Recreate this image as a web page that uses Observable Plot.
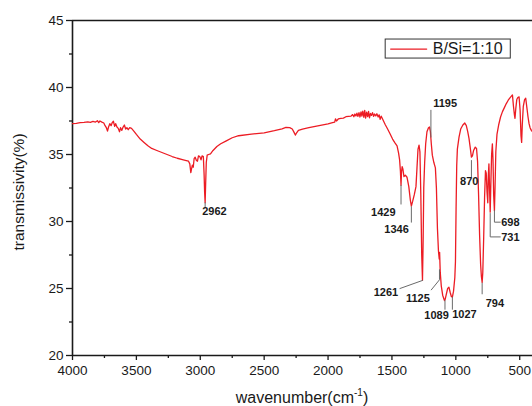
<!DOCTYPE html>
<html><head><meta charset="utf-8">
<script src="https://cdn.jsdelivr.net/npm/d3@7"></script>
<script src="https://cdn.jsdelivr.net/npm/@observablehq/plot@0.6"></script>
<style>
html,body{margin:0;padding:0;background:#fff;}
#chart{width:532px;height:406px;overflow:hidden;}
</style></head><body><div id="chart"></div>
<script>
const wavenumber = [4000,3970,3940,3910,3880,3860,3840,3820,3805,3795,3785,3770,3755,3745,3735,3726,3718,3708,3698,3688,3680,3670,3662,3652,3642,3632,3624,3614,3604,3594,3584,3574,3564,3552,3538,3520,3500,3470,3440,3410,3380,3340,3300,3260,3220,3180,3140,3110,3092,3082,3074,3068,3062,3055,3048,3040,3030,3022,3014,3004,2994,2986,2976,2970,2966,2962,2958,2953,2946,2935,2920,2900,2870,2840,2800,2750,2700,2600,2500,2420,2360,2330,2300,2280,2266,2256,2246,2232,2200,2150,2100,2050,2000,1965,1948,1942,1934,1920,1900,1880,1860,1840,1820,1808,1798,1790,1782,1774,1766,1758,1750,1742,1735,1728,1720,1713,1706,1698,1690,1683,1676,1668,1660,1652,1644,1636,1627,1618,1608,1600,1592,1584,1576,1566,1552,1535,1515,1495,1475,1460,1448,1440,1434,1429,1425,1420,1414,1406,1395,1382,1368,1356,1348,1338,1325,1312,1304,1296,1288,1281,1274,1267,1261,1256,1251,1244,1236,1226,1214,1206,1199,1192,1184,1172,1160,1152,1144,1136,1130,1127,1122,1114,1103,1089,1083,1076,1064,1054,1044,1035,1027,1018,1008,1003,998,993,988,975,962,945,930,918,907,897,887,878,870,861,848,838,830,822,814,806,800,794,789,782,775,768,762,756,750,746,741,736,731,726,720,714,709,704,698,693,687,678,665,650,635,620,605,590,575,557,549,542,537,531,523,515,505,497,490,485,480,472,462,453,444,435,427,419,409,400];
const transmissivity = [37.30,37.33,37.38,37.40,37.43,37.40,37.47,37.42,37.52,37.38,37.50,37.42,37.35,37.15,37.00,36.75,37.05,37.30,37.15,37.40,37.48,37.10,37.30,37.05,36.95,36.70,37.00,36.80,37.05,37.20,36.90,37.00,36.85,37.00,36.95,36.75,36.50,36.15,35.90,35.65,35.45,35.30,35.15,35.00,34.85,34.72,34.62,34.55,34.50,34.30,33.65,33.95,34.20,34.05,34.70,34.80,34.55,34.50,34.90,34.85,34.60,34.90,34.85,33.50,32.20,31.40,32.80,34.40,34.95,35.00,35.05,35.30,35.60,35.80,36.00,36.25,36.40,36.52,36.62,36.78,36.92,37.02,37.00,36.90,36.65,36.45,36.62,36.80,36.90,37.00,37.10,37.20,37.28,37.38,37.42,37.66,37.50,37.65,37.70,37.72,37.82,37.85,37.86,37.98,37.82,38.02,37.88,38.08,37.84,38.12,37.80,38.18,37.86,38.24,37.78,38.30,37.72,38.16,37.82,38.22,37.74,38.06,37.92,38.12,37.84,38.02,37.88,38.04,37.80,37.96,37.62,37.86,37.70,37.50,37.22,36.92,36.55,36.15,35.85,35.65,35.10,34.60,33.80,32.70,33.70,34.10,33.90,33.35,33.45,33.30,32.60,31.60,31.15,31.50,32.00,32.60,34.00,35.40,35.70,35.20,32.00,27.50,25.60,28.50,32.50,34.40,35.80,36.70,37.00,37.05,36.70,35.80,34.95,34.40,34.00,32.50,29.50,27.80,27.20,27.70,26.20,25.20,24.50,24.10,24.20,24.50,25.00,25.10,24.70,24.40,24.35,24.80,25.80,27.00,31.00,34.20,35.40,36.30,36.90,37.20,37.35,37.15,36.70,36.20,35.50,34.80,34.90,35.30,35.55,35.45,34.50,32.00,29.00,26.80,25.90,25.45,26.20,28.80,31.80,33.80,33.60,32.20,31.40,33.40,34.30,32.40,30.70,32.80,35.00,35.80,34.60,32.00,30.80,32.60,35.20,36.50,37.20,37.80,38.20,38.50,38.80,39.05,39.25,39.45,38.60,38.00,37.70,38.40,39.10,39.25,39.30,38.30,36.40,35.90,37.20,38.60,39.10,39.20,38.50,37.80,37.30,37.00,36.80,36.70];

const xTicks = [4000,3500,3000,2500,2000,1500,1000,500];
const xMinorTicks = [3750,3250,2750,2250,1750,1250,750];
const yTicks = [20,25,30,35,40,45];
const yMinorTicks = [22.5,27.5,32.5,37.5,42.5];
const seriesName = "B/Si=1:10";
const xLabel = "wavenumber(cm";
const xLabelSup = "-1";
const yLabel = "transmissivity(%)";

const peakLabels = ["2962","1429","1346","1261","1125","1089","1027","1195","870","794","731","698"];
const peakLabelX = [2985,1472,1368,1451,1204,1151,1028,1177,895,766,645,645];
const peakLabelY = [30.75,30.7,29.4,24.68,24.25,23.0,23.06,38.78,33.0,23.9,28.83,29.95];
const peakLabelAnchor = ["start","end","end","end","end","middle","start","start","middle","start","start","start"];
const leaderPaths = [
  [[2962,31.4],[2962,31.05]],
  [[1429,32.7],[1429,31.3]],
  [[1348,31.1],[1348,29.95]],
  [[1261,25.6],[1437,25.0]],
  [[1128,26.4],[1128,25.65],[1192,24.9]],
  [[1085,24.1],[1085,23.45]],
  [[1027,24.35],[1027,23.45]],
  [[1195,38.3],[1195,36.3]],
  [[878,34.55],[878,33.35]],
  [[794,25.4],[794,24.6]],
  [[731,30.6],[731,28.85],[652,28.85]],
  [[698,30.8],[698,29.95],[652,29.95]]
];

const spectrum = wavenumber.map((w, i) => ({wn: w, t: transmissivity[i]}));
const labels = peakLabels.map((s, i) => ({s, x: peakLabelX[i], y: peakLabelY[i], a: peakLabelAnchor[i]}));
const leaders = leaderPaths.flatMap((p, k) => p.map(([x, y]) => ({x, y, k})));

const RED = "#ec1c24";
const INK = "#1a1a1a";
const FONT = "'Liberation Sans', Arial, Helvetica, sans-serif";
const labelStyle = {x: "x", y: "y", text: "s", fontSize: 11, fontWeight: "bold", fill: INK};

const plot = Plot.plot({
  width: 532,
  height: 406,
  marginLeft: 72,
  marginRight: 0,
  marginTop: 20,
  marginBottom: 51,
  style: {fontFamily: FONT, background: "#fff", color: INK, overflow: "hidden"},
  x: {domain: [4000, 400]},
  y: {domain: [20, 45]},
  marks: [
    Plot.axisX(xTicks, {tickSize: 5, tickPadding: 5, fontSize: 13.5, tickFormat: d => String(d), label: null, strokeWidth: 1.3}),
    Plot.axisX(xMinorTicks, {tickSize: 3, tickFormat: () => "", label: null, strokeWidth: 1.3}),
    Plot.axisY(yTicks, {tickSize: 6, tickPadding: 3, fontSize: 13.5, tickFormat: d => String(d), label: null, strokeWidth: 1.3}),
    Plot.axisY(yMinorTicks, {tickSize: 3, tickFormat: () => "", label: null, strokeWidth: 1.3}),
    Plot.ruleY([20, 45], {stroke: INK, strokeWidth: 1.6}),
    Plot.ruleX([4000], {stroke: INK, strokeWidth: 1.6}),
    Plot.line(spectrum, {x: "wn", y: "t", stroke: RED, strokeWidth: 1.3}),
    Plot.line(leaders, {x: "x", y: "y", z: "k", stroke: "#6a6a6a", strokeWidth: 1}),
    Plot.text(labels.filter(d => d.a === "start"), {...labelStyle, textAnchor: "start"}),
    Plot.text(labels.filter(d => d.a === "end"), {...labelStyle, textAnchor: "end"}),
    Plot.text(labels.filter(d => d.a === "middle"), {...labelStyle, textAnchor: "middle"}),
    // legend
    Plot.rect([seriesName], {x1: 1549, x2: 570, y1: 42.16, y2: 43.58, fill: "#fff", stroke: "#333", strokeWidth: 1}),
    Plot.line([[1510, 42.87], [1228, 42.87]], {stroke: RED, strokeWidth: 1.2}),
    Plot.text([seriesName], {x: 1181, y: 42.87, text: d => d, textAnchor: "start", fontSize: 16, fill: INK}),
    // y axis title
    Plot.text([yLabel], {frameAnchor: "left", dx: -53, dy: 4, rotate: -90, text: d => d, fontSize: 15.5, fill: INK, textAnchor: "middle"})
  ]
});

const svg = d3.select(plot);
const xt = svg.append("text")
  .attr("x", 302).attr("y", 403)
  .attr("text-anchor", "middle")
  .attr("font-family", FONT).attr("font-size", 16).attr("fill", INK);
xt.append("tspan").text(xLabel);
xt.append("tspan").attr("font-size", 10).attr("dy", -7).text(xLabelSup);
xt.append("tspan").attr("dy", 7).text(")");

document.getElementById("chart").appendChild(plot);
</script>
</body></html>
